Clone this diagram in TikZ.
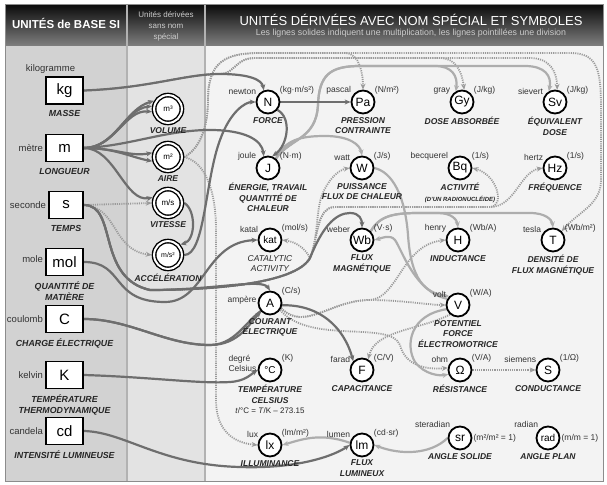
\documentclass[tikz,border=0pt]{standalone}
\usepackage{fontspec}
\setmainfont{Liberation Sans}
\usetikzlibrary{arrows.meta,positioning,backgrounds}
\pgfdeclarelayer{wires}
\pgfsetlayers{background,wires,main}
\definecolor{darkline}{HTML}{6E6E6E}
\definecolor{lightline}{HTML}{ADADAD}
\definecolor{dotline}{HTML}{9A9A9A}
\definecolor{colA}{HTML}{D2D2D2}
\definecolor{colB}{HTML}{E3E3E3}
\definecolor{colC}{HTML}{F3F3F3}
\newcommand{\headBottom}{46}
\newcommand{\colOne}{127}
\newcommand{\colTwo}{205}
\newcommand{\panelRight}{603}
\newcommand{\panelBottom}{481}

\begin{document}
\begin{tikzpicture}[x=1pt,y=-1pt,>={Stealth[length=6pt,width=5pt]},
  unitbox/.style={draw,line width=1.8pt,fill=white,minimum width=37pt,minimum height=27pt,inner sep=0pt,font=\fontsize{15}{15}\selectfont},
  plain/.style={draw,circle,double,double distance=2pt,line width=1.4pt,fill=white,minimum size=27.8pt,inner sep=0pt,outer sep=2.4pt,font=\fontsize{8}{8}\selectfont},
  named/.style={draw,circle,line width=1.8pt,fill=white,minimum size=23pt,inner sep=0pt,font=\fontsize{12}{12}\selectfont},
  lbl/.style={font=\fontsize{8.5}{10}\selectfont,text=black!80,inner sep=1pt},
  blbl/.style={font=\fontsize{9.5}{10}\selectfont,text=black!80,inner sep=2pt},
  captxt/.style={font=\fontsize{8.5}{10.5}\selectfont\bfseries\itshape,text=black!85,align=center,inner sep=1pt,yshift=-1.5pt},
  bcaptxt/.style={captxt,font=\fontsize{8.8}{11}\selectfont\bfseries\itshape,yshift=-3pt},
  mul/.style={draw=darkline,line width=2.2pt,->},
  mull/.style={draw=lightline,line width=2.2pt,->},
  dvd/.style={draw=dotline,line width=1.8pt,dash pattern=on 1.1pt off 1.1pt,->}]
\useasboundingbox (0,0) rectangle (607,484);

\begin{scope}[on background layer]
\fill[white] (0,0) rectangle (607,484);
\fill[colA] (5,\headBottom) rectangle (\colOne,\panelBottom);
\fill[colB] (\colOne,\headBottom) rectangle (\colTwo,\panelBottom);
\fill[colC] (\colTwo,\headBottom) rectangle (\panelRight,\panelBottom);
\shade[top color=black!95,bottom color=black!50] (5,5) rectangle (\panelRight,\headBottom);
\draw[black!30,line width=1.5pt] (\colOne,5) -- (\colOne,\panelBottom) (\colTwo,5) -- (\colTwo,\panelBottom);
\draw[black!45,line width=1pt] (5,5) rectangle (\panelRight,\panelBottom);
\end{scope}

\node (hbase) at (66,23) [text=white,font=\fontsize{11.5}{12}\selectfont\bfseries] {UNITÉS de BASE SI};
\node (hmid) at (166,26) [text=white!80!black,font=\fontsize{8}{11}\selectfont,align=center] {Unités dérivées\\sans nom\\spécial};
\node (htitle) at (411,20) [text=white,font=\fontsize{13}{13}\selectfont] {UNITÉS DÉRIVÉES AVEC NOM SPÉCIAL ET SYMBOLES};
\node (hsub) at (411,33) [text=white!80!black,font=\fontsize{8.8}{9}\selectfont] {Les lignes solides indiquent une multiplication, les lignes pointillées une division};

\node[unitbox,label={[blbl,xshift=-14pt]above:kilogramme},label={[bcaptxt]below:MASSE}] (kg) at (64.5,90.5) {kg};
\node[unitbox,label={[blbl]left:mètre},label={[bcaptxt]below:LONGUEUR}] (m) at (64.5,148) {m};
\node[unitbox,minimum width=34pt,label={[blbl]left:seconde},label={[bcaptxt]below:TEMPS}] (s) at (66,205) {s};
\node[unitbox,label={[blbl,yshift=3pt]left:mole},label={[bcaptxt]below:{QUANTITÉ DE\\MATIÈRE}}] (mol) at (64.5,262) {mol};
\node[unitbox,label={[blbl]left:coulomb},label={[bcaptxt]below:{CHARGE ÉLECTRIQUE}}] (C) at (64.5,319) {C};
\node[unitbox,label={[blbl]left:kelvin},label={[bcaptxt]below:{TEMPÉRATURE\\THERMODYNAMIQUE}}] (K) at (64.5,375) {K};
\node[unitbox,label={[blbl]left:candela},label={[bcaptxt]below:{INTENSITÉ LUMINEUSE}}] (cd) at (64.5,431) {cd};

\node[plain,label={[captxt]below:VOLUME}] (vol) at (168,109) {m³};
\node[plain,label={[captxt]below:AIRE}] (aire) at (168,157) {m²};
\node[plain,label={[captxt]below:VITESSE}] (vit) at (168,203) {m/s};
\node[plain,font=\fontsize{7}{7}\selectfont,label={[captxt]below:ACCÉLÉRATION}] (acc) at (168,255) {m/s²};

\node[named,label={[lbl]150:newton},label={[lbl]30:{(kg·m/s²)}},label={[captxt]below:FORCE}] (N) at (268,102) {N};
\node[named,label={[lbl]150:pascal},label={[lbl]30:{(N/m²)}},label={[captxt]below:{PRESSION\\CONTRAINTE}}] (Pa) at (363,102) {Pa};
\node[named,label={[lbl]150:gray},label={[lbl]30:{(J/kg)}},label={[captxt]below:{DOSE ABSORBÉE}}] (Gy) at (462,102) {Gy};
\node[named,label={[lbl]150:sievert},label={[lbl]30:{(J/kg)}},label={[captxt]below:{ÉQUIVALENT\\DOSE}}] (Sv) at (555,102) {Sv};
\node[named,label={[lbl]150:joule},label={[lbl]30:{(N·m)}},label={[captxt]below:{ÉNERGIE, TRAVAIL\\QUANTITÉ DE\\CHALEUR}}] (J) at (268,168) {J};
\node[named,label={[lbl]150:watt},label={[lbl]30:{(J/s)}},label={[captxt]below:{PUISSANCE\\FLUX DE CHALEUR}}] (W) at (362,168) {W};
\node[named,label={[lbl]150:becquerel},label={[lbl]30:{(1/s)}},label={[captxt]below:{ACTIVITÉ\\{\fontsize{6}{7}\selectfont (D’UN RADIONUCLÉIDE)}}}] (Bq) at (460,168) {Bq};
\node[named,label={[lbl]150:hertz},label={[lbl]30:{(1/s)}},label={[captxt]below:FRÉQUENCE}] (Hz) at (555,168) {Hz};
\node[named,font=\fontsize{10}{10}\selectfont,label={[lbl]150:katal},label={[lbl]30:{(mol/s)}},label={[captxt,font=\fontsize{8.5}{10.5}\selectfont\itshape]below:{CATALYTIC\\ACTIVITY}}] (kat) at (270,240) {kat};
\node[named,label={[lbl]150:weber},label={[lbl]30:{(V·s)}},label={[captxt]below:{FLUX\\MAGNÉTIQUE}}] (Wb) at (362,240) {Wb};
\node[named,label={[lbl]150:henry},label={[lbl]30:{(Wb/A)}},label={[captxt]below:INDUCTANCE}] (H) at (458,240) {H};
\node[named,label={[lbl]150:tesla},label={[lbl]30:{(Wb/m²)}},label={[captxt]below:{DENSITÉ DE\\FLUX MAGNÉTIQUE}}] (T) at (553,240) {T};
\node[named,label={[lbl,yshift=3pt]left:ampère},label={[lbl]30:{(C/s)}},label={[captxt]below:{COURANT\\ÉLECTRIQUE}}] (A) at (270,303) {A};
\node[named,label={[lbl]150:volt},label={[lbl]30:{(W/A)}},label={[captxt]below:{POTENTIEL\\FORCE\\ÉLECTROMOTRICE}}] (V) at (458,305) {V};
\node[named,font=\fontsize{10}{10}\selectfont,label={[lbl,align=left,yshift=7pt]left:{degré\\Celsius}},label={[lbl]30:{(K)}},label={[captxt]below:{TEMPÉRATURE\\CELSIUS\\{\mdseries\upshape\fontsize{8}{10}\selectfont \textit{t}/°C = \textit{T}/K – 273.15}}}] (degC) at (270,370) {°C};
\node[named,label={[lbl]150:farad},label={[lbl]30:{(C/V)}},label={[captxt]below:CAPACITANCE}] (F) at (362,370) {F};
\node[named,label={[lbl]150:ohm},label={[lbl]30:{(V/A)}},label={[captxt]below:RÉSISTANCE}] (ohm) at (460,370) {Ω};
\node[named,label={[lbl]150:siemens},label={[lbl]30:{(1/Ω)}},label={[captxt]below:CONDUCTANCE}] (S) at (548,370) {S};
\node[named,label={[lbl]150:lux},label={[lbl]30:{(lm/m²)}},label={[captxt]below:ILLUMINANCE}] (lx) at (270,445) {lx};
\node[named,label={[lbl]150:lumen},label={[lbl]30:{(cd·sr)}},label={[captxt]below:{FLUX\\LUMINEUX}}] (lm) at (362,445) {lm};
\node[named,label={[lbl]135:steradian},label={[lbl]right:{(m²/m² = 1)}},label={[captxt]below:{ANGLE SOLIDE}}] (sr) at (460,438) {sr};
\node[named,font=\fontsize{10}{10}\selectfont,label={[lbl]135:radian},label={[lbl]right:{(m/m = 1)}},label={[captxt]below:{ANGLE PLAN}}] (rad) at (548,438) {rad};

\begin{pgfonlayer}{wires}
\draw[dvd] (kg.east) .. controls (150,88) and (185,74) .. (220,74) .. controls (235,74) and (235,58) .. (255,58) -- (440,58) .. controls (456,58) and (462,72) .. (Gy.80);
\draw[dvd] (kg.east) .. controls (150,88) and (185,74) .. (220,74) .. controls (235,74) and (235,58) .. (255,58) -- (530,58) .. controls (550,58) and (557,72) .. (Sv.80);
\draw[dvd] (aire.east) .. controls (198,150) and (208,130) .. (208,100) .. controls (208,62) and (225,53) .. (260,53) -- (345,53) .. controls (360,53) and (363,75) .. (Pa.north);
\draw[dvd] (aire.east) .. controls (198,150) and (208,130) .. (208,100) .. controls (208,62) and (225,53) .. (260,53) -- (570,53) .. controls (598,53) and (601,70) .. (601,110) -- (601,180) .. controls (601,205) and (578,212) .. (T.45);
\draw[dvd] (aire.east) .. controls (205,162) and (216,190) .. (216,230) -- (216,400) .. controls (216,432) and (235,443) .. (lx.west);
\draw[dvd] (s.east) -- (vit.west);
\draw[dvd] (s.east) .. controls (118,207) and (112,250) .. (acc.west);
\draw[dvd] (s.east) .. controls (118,205) and (96,278) .. (150,290) .. controls (205,290) and (295,285) .. (310,258) .. controls (305,248) and (296,242) .. (kat.east);
\draw[dvd] (s.east) .. controls (118,205) and (96,278) .. (150,290) .. controls (205,290) and (295,285) .. (310,258) .. controls (318,240) and (316,210) .. (322,195) .. controls (328,180) and (338,170) .. (W.west);
\draw[dvd] (s.east) .. controls (118,205) and (96,278) .. (150,290) .. controls (205,290) and (295,285) .. (310,258) .. controls (318,240) and (316,207) .. (335,207) -- (490,207) .. controls (505,207) and (498,175) .. (Bq.east);
\draw[dvd] (s.east) .. controls (118,205) and (96,278) .. (150,290) .. controls (205,290) and (295,285) .. (310,258) .. controls (318,240) and (316,207) .. (335,207) -- (490,207) .. controls (515,207) and (520,172) .. (Hz.west);
\draw[dvd] (A.-25) .. controls (305,332) and (330,300) .. (370,300) .. controls (400,300) and (430,305) .. (V.west);
\draw[dvd] (A.-25) .. controls (305,332) and (330,300) .. (370,300) .. controls (398,298) and (402,245) .. (H.west);
\draw[dvd] (A.-35) .. controls (310,345) and (390,320) .. (400,345) .. controls (405,365) and (425,370) .. (ohm.170);
\draw[dvd] (V.230) .. controls (420,330) and (375,330) .. (F.60);
\draw[dvd] (ohm.east) -- (S.west);
%\draw[dvd] (s.east) .. controls (118,205) and (96,278) .. (150,290) .. controls (200,290) and (262,278) .. (A.north);

\draw[mull] (J.50) .. controls (285,140) and (300,136) .. (325,136) .. controls (350,136) and (360,145) .. (W.north);
\draw[mull] (J.50) .. controls (290,138) and (316,140) .. (318,105) .. controls (319,75) and (330,66) .. (360,66) -- (435,66) .. controls (452,66) and (458,76) .. (Gy.120);
\draw[mull] (J.50) .. controls (290,138) and (316,140) .. (318,105) .. controls (319,75) and (330,66) .. (360,66) -- (525,66) .. controls (545,66) and (552,76) .. (Sv.120);
\draw[mull] (W.east) .. controls (392,172) and (405,195) .. (408,235) .. controls (411,280) and (425,293) .. (V.north west);
\draw[mull] (V.150) .. controls (415,292) and (402,250) .. (395,240) .. controls (390,234) and (382,238) .. (Wb.east);
\draw[mull] (Wb.45) .. controls (380,215) and (395,213) .. (420,213) -- (438,213) .. controls (452,213) and (457,220) .. (H.north);
\draw[mull] (Wb.45) .. controls (380,215) and (395,213) .. (420,213) -- (530,213) .. controls (546,213) and (552,220) .. (T.north);
\draw[mull] (V.200) .. controls (410,315) and (405,345) .. (415,362) .. controls (425,375) and (440,376) .. (ohm.200);
\draw[mull] (lm.170) .. controls (320,432) and (300,440) .. (lx.east);
\draw[mull] (sr.west) .. controls (430,455) and (400,455) .. (lm.east);

\draw[mul] (kg.east) .. controls (150,88) and (185,74) .. (220,74) .. controls (250,74) and (262,80) .. (N.110);
\foreach \a in {150,170,190}
  \draw[mul] (m.east) .. controls (115,148) and (125,109) .. (vol.\a);
\foreach \a in {165,195}
  \draw[mul] (m.east) .. controls (115,148) and (130,157) .. (aire.\a);
\draw[mul] (m.east) .. controls (115,148) and (125,203) .. (vit.160);
\draw[mul] (m.east) .. controls (130,146) and (165,130) .. (210,130) .. controls (245,130) and (262,140) .. (J.110);
\draw[mul] (s.east) .. controls (118,205) and (96,278) .. (150,290) .. controls (205,290) and (295,285) .. (310,258) .. controls (322,228) and (335,213) .. (350,213) .. controls (360,213) and (362,220) .. (Wb.north);
\draw[mul] (s.east) .. controls (118,205) and (96,278) .. (150,290) .. controls (215,290) and (262,278) .. (A.north);
\draw[mul] (mol.east) .. controls (125,262) and (110,302) .. (165,302) .. controls (205,302) and (205,242) .. (kat.west);
\draw[mul] (C.east) .. controls (130,319) and (165,345) .. (210,345) .. controls (240,345) and (250,322) .. (A.south west);
\draw[mul] (C.east) .. controls (130,319) and (165,345) .. (210,345) .. controls (240,345) and (250,310) .. (272,306) .. controls (320,300) and (345,330) .. (F.north west);
\draw[mul] (K.east) .. controls (150,377) and (200,384) .. (230,382) .. controls (245,381) and (250,375) .. (degC.west);
\draw[mul] (cd.east) .. controls (125,432) and (160,465) .. (240,467) .. controls (300,469) and (335,455) .. (lm.west);
\draw[mul] (vit.east) .. controls (196,210) and (196,240) .. (acc.40);
\draw[mul] (acc.east) .. controls (205,255) and (205,180) .. (220,140) .. controls (230,112) and (245,102) .. (N.west);
\draw[mul] (N.east) -- (Pa.west);
\draw[mul] (N.-40) .. controls (292,118) and (288,145) .. (J.70);
\end{pgfonlayer}
\end{tikzpicture}
\end{document}
